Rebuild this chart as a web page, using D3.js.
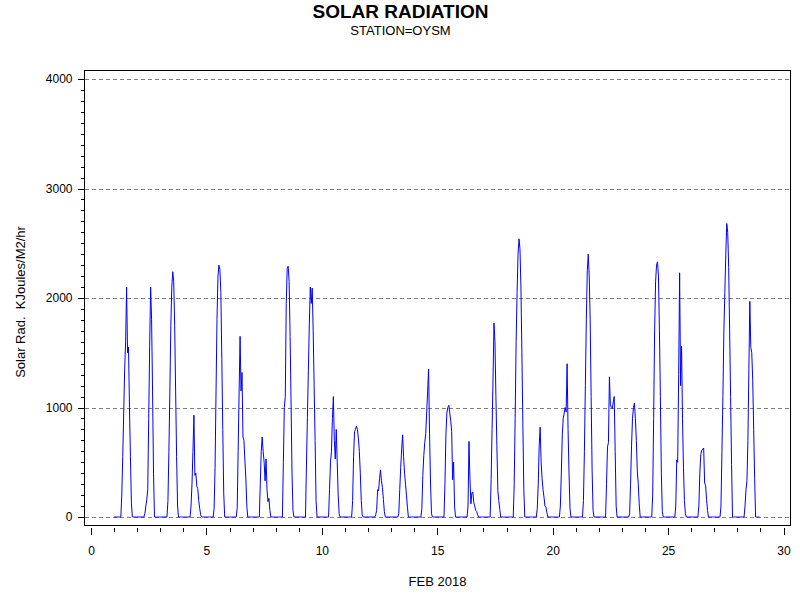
<!DOCTYPE html>
<html>
<head>
<meta charset="utf-8">
<script src="https://cdn.jsdelivr.net/npm/d3@7"></script>
<style>
    body { margin: 0; background: #fff; }
    text { font-family: "Liberation Sans", Arial, sans-serif; fill: #000; }
</style>
</head>
<body>
<svg width="800" height="600"></svg>
<script>
// Day of month (Feb 2018) for each row of hourly readings
const dayOfMonth = [1, 2, 3, 4, 5, 6, 7, 8, 9, 10, 11, 12, 13, 14,
                    15, 16, 17, 18, 19, 20, 21, 22, 23, 24, 25, 26, 27, 28];

// Hourly solar radiation, KJoules/M2/hr, hours 0..23
const hourlyRad = [
    [0,0,0,0,0,0,0, 0, 200, 550, 950,1350,1600,2100,1500,1550,1000, 550, 130, 0,0,0,0,0],
    [0,0,0,0,0,0,0, 0,  30, 100, 160, 250, 900,1560,2100,1800,1150, 400,   0, 0,0,0,0,0],
    [0,0,0,0,0,0,0, 0, 150, 600,1150,1750,2100,2240,2150,1750,1150, 550, 100, 0,0,0,0,0],
    [0,0,0,0,0,0,0, 0, 100, 300, 600, 930, 380, 400, 280, 260, 150,  80,  20, 0,0,0,0,0],
    [0,0,0,0,0,0,0, 0,  80, 450,1150,1800,2200,2300,2260,2050,1450, 800, 220, 0,0,0,0,0],
    [0,0,0,0,0,0,0, 0,  80, 600,1150,1650,1150,1320, 730, 700, 520, 350, 100, 0,0,0,0,0],
    [0,0,0,0,0,0,0, 0, 300, 600, 730, 600, 500, 330, 530, 250, 140, 170,  60, 0,0,0,0,0],
    [0,0,0,0,0,0,0, 0, 500,1000,1100,1950,2270,2290,2150,1650,1050, 400,  60, 0,0,0,0,0],
    [0,0,0,0,0,0,0, 0, 475, 910,1340,1770,2100,1950,2090,1700,1200, 700, 150, 0,0,0,0,0],
    [0,0,0,0,0,0,0, 0, 250, 500, 600, 900,1100, 700, 530, 800, 500, 200,  30, 0,0,0,0,0],
    [0,0,0,0,0,0,0, 0, 150, 550, 780, 800, 830, 800, 720, 600, 400, 150,  20, 0,0,0,0,0],
    [0,0,0,0,0,0,0, 0,  20,  60, 250, 240, 350, 430, 330, 270, 160,  50,   0, 0,0,0,0,0],
    [0,0,0,0,0,0,0, 0,  30, 250, 450, 620, 750, 550, 400, 300, 200,  90,   0, 0,0,0,0,0],
    [0,0,0,0,0,0,0, 0,  80, 380, 560, 680, 760, 950,1150,1350, 760, 310,  30, 0,0,0,0,0],
    [0,0,0,0,0,0,0, 0, 300, 750, 950,1000,1020, 950, 880, 780, 340, 500, 100, 0,0,0,0,0],
    [0,0,0,0,0,0,0, 0, 100, 690, 350, 120, 220, 230, 130, 100,  60,  50,  20, 0,0,0,0,0],
    [0,0,0,0,0,0,0, 0, 340, 800,1270,1770,1600,1100, 650, 240, 150,  70,   0, 0,0,0,0,0],
    [0,0,0,0,0,0,0, 0, 300, 900,1600,2050,2400,2540,2450,2100,1500, 850, 250, 0,0,0,0,0],
    [0,0,0,0,0,0,0, 0,  80, 300, 650, 820, 500, 350, 250, 180, 100,  90,  40, 0,0,0,0,0],
    [0,0,0,0,0,0,0, 0, 100, 400, 750, 900, 950,1000, 960,1400, 800, 400,  80, 0,0,0,0,0],
    [0,0,0,0,0,0,0, 0, 150, 600,1200,1800,2250,2400,2200,1800,1100, 430,  60, 0,0,0,0,0],
    [0,0,0,0,0,0,0, 0, 300, 640, 680,1280,1030,1000, 990,1050,1100, 600, 100, 0,0,0,0,0],
    [0,0,0,0,0,0,0, 0,  30, 300, 650, 900,1000,1040, 900, 700, 420, 300, 120, 0,0,0,0,0],
    [0,0,0,0,0,0,0, 0, 200, 900,1700,2150,2300,2330,2200,1700,1100, 400,  50, 0,0,0,0,0],
    [0,0,0,0,0,0,0, 0, 100, 520, 500,1300,2230,1200,1560, 900, 450, 150,  30, 0,0,0,0,0],
    [0,0,0,0,0,0,0, 0, 100, 400, 570, 610, 620, 630, 310, 290, 160,  60,   0, 0,0,0,0,0],
    [0,0,0,0,0,0,0, 100, 600,1100,1700,2050,2400,2680,2600,2280,1700,1100, 480, 0,0,0,0,0],
    [0,0,0,0,0,0,0, 0, 100, 250, 330, 700,1350,1970,1550,1500,1250, 800, 350, 0,0,0,0,0]
];

const yMajorTicks = [0, 1000, 2000, 3000, 4000];
const xMajorTicks = [0, 5, 10, 15, 20, 25, 30];
const yMinorStep = 100;
const xMinorStep = 1;

const titleText = "SOLAR RADIATION";
const subtitleText = "STATION=OYSM";
const yLabelText = "Solar Rad.  KJoules/M2/hr";
const xLabelText = "FEB 2018";

let svg = d3.select("svg");

// frame edges (pixels)
let frame = { left: 84.5, right: 790.5, top: 70.5, bottom: 525.5 };

let x = d3.scaleLinear().domain([0, 30]).range([91, 783.5]);
let y = d3.scaleLinear().domain([0, 4000]).range([517, 79]);

// flatten to (time, value) with time = day + hour/24
let points = [];
hourlyRad.forEach((row, i) => {
    row.forEach((v, h) => {
        points.push({ t: dayOfMonth[i] + h / 24, v: v });
    });
});

// Titles
svg.append("text")
    .attr("x", 400.5).attr("y", 18)
    .attr("text-anchor", "middle")
    .style("font-size", "19px")
    .style("font-weight", "bold")
    .text(titleText);
svg.append("text")
    .attr("x", 400.5).attr("y", 35)
    .attr("text-anchor", "middle")
    .style("font-size", "13px")
    .text(subtitleText);

// Dashed reference lines
svg.append("g")
    .selectAll("line")
    .data(yMajorTicks)
    .enter()
    .append("line")
    .attr("x1", frame.left)
    .attr("x2", frame.right)
    .attr("y1", d => Math.round(y(d)) + 0.5)
    .attr("y2", d => Math.round(y(d)) + 0.5)
    .attr("stroke", "#808080")
    .attr("stroke-dasharray", "4,3")
    .attr("shape-rendering", "crispEdges");

// Data line
let line = d3.line()
    .x(d => x(d.t))
    .y(d => y(d.v));
svg.append("path")
    .datum(points)
    .attr("d", line)
    .attr("fill", "none")
    .attr("stroke", "#0000ff")
    .attr("stroke-width", 1);

// Frame
svg.append("rect")
    .attr("x", frame.left)
    .attr("y", frame.top)
    .attr("width", frame.right - frame.left)
    .attr("height", frame.bottom - frame.top)
    .attr("fill", "none")
    .attr("stroke", "#000")
    .attr("shape-rendering", "crispEdges");

// Y axis: minor then major ticks
let yMinor = d3.range(0, 4000 + yMinorStep, yMinorStep);
svg.append("g")
    .attr("transform", `translate(${frame.left},0)`)
    .call(d3.axisLeft(y).tickValues(yMinor).tickSize(4).tickFormat(""))
    .call(g => g.select(".domain").remove());
svg.append("g")
    .attr("transform", `translate(${frame.left},0)`)
    .call(d3.axisLeft(y).tickValues(yMajorTicks).tickSize(7).tickPadding(5).tickFormat(d3.format("d")))
    .call(g => g.select(".domain").remove())
    .call(g => g.selectAll("text")
        .style("font-size", "12px")
        .style("font-family", '"Liberation Sans", Arial, sans-serif'));

// X axis sits 2px under the frame
let xMinor = d3.range(0, 30 + xMinorStep, xMinorStep);
svg.append("g")
    .attr("transform", "translate(0,527.5)")
    .call(d3.axisBottom(x).tickValues(xMinor).tickSize(4.5).tickFormat(""))
    .call(g => g.select(".domain").remove());
svg.append("g")
    .attr("transform", "translate(0,527.5)")
    .call(d3.axisBottom(x).tickValues(xMajorTicks).tickSize(7.5).tickPadding(11))
    .call(g => g.select(".domain").remove())
    .call(g => g.selectAll("text")
        .style("font-size", "12px")
        .style("font-family", '"Liberation Sans", Arial, sans-serif'));

svg.selectAll(".tick line").attr("shape-rendering", "crispEdges");

// Axis labels
svg.append("text")
    .attr("transform", "translate(25,302) rotate(-90)")
    .attr("text-anchor", "middle")
    .style("font-size", "13px")
    .style("white-space", "pre")
    .attr("xml:space", "preserve")
    .text(yLabelText);
svg.append("text")
    .attr("x", 437.5).attr("y", 586)
    .attr("text-anchor", "middle")
    .style("font-size", "13px")
    .text(xLabelText);
</script>
</body>
</html>
